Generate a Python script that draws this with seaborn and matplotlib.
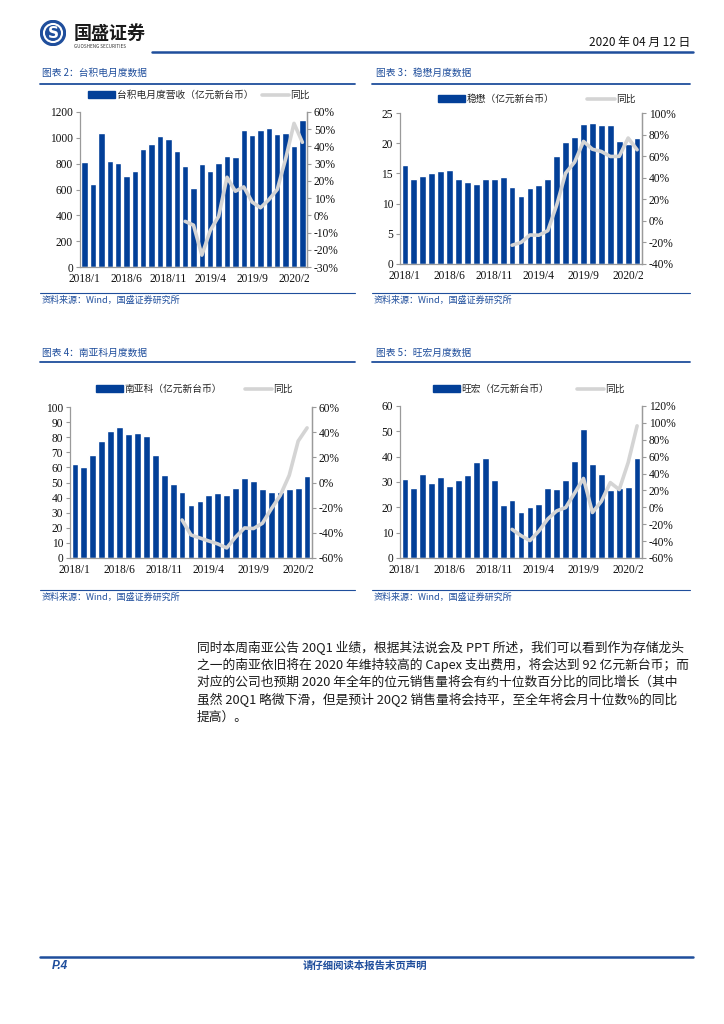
import numpy as np
import pandas as pd
import matplotlib
matplotlib.use("Agg")
import matplotlib.pyplot as plt
from matplotlib.patches import Patch, Circle
from matplotlib.lines import Line2D
from matplotlib.ticker import FuncFormatter
import seaborn as sns

# ---------------- data ----------------
months = ["2018/1", "2018/2", "2018/3", "2018/4", "2018/5", "2018/6", "2018/7", "2018/8", "2018/9",
          "2018/10", "2018/11", "2018/12", "2019/1", "2019/2", "2019/3", "2019/4", "2019/5", "2019/6",
          "2019/7", "2019/8", "2019/9", "2019/10", "2019/11", "2019/12", "2020/1", "2020/2", "2020/3"]
tick_labels = ["2018/1", "2018/6", "2018/11", "2019/4", "2019/9", "2020/2"]

tsmc_rev = [810, 646, 1037, 819, 809, 704, 744, 911, 949, 1016, 989, 898,
            781, 609, 797, 747, 804, 859, 848, 1061, 1022, 1060, 1079, 1033, 1037, 934, 1135]
tsmc_yoy = [-3.5, -5.7, -23.1, -8.8, -0.6, 22.1, 14.0, 16.5, 7.7, 4.4, 9.1, 15.0, 32.8, 53.4, 42.4]

win_rev = [16.4, 14.0, 14.5, 15.0, 15.4, 15.6, 14.0, 13.6, 13.3, 14.0, 14.0, 14.4,
           12.7, 11.2, 12.6, 13.0, 14.0, 17.9, 20.2, 21.0, 23.1, 23.3, 23.0, 23.0, 20.3, 19.8, 20.9]
win_yoy = [-22.6, -20.0, -13.1, -13.3, -9.1, 14.7, 44.3, 54.4, 73.7, 66.4, 64.3, 59.7, 59.8, 76.8, 65.9]

nanya_rev = [62.0, 60.0, 68.0, 77.5, 84.0, 86.5, 82.0, 83.0, 80.5, 68.0, 55.0, 49.0,
             43.5, 35.0, 38.0, 41.5, 43.0, 41.5, 46.5, 53.0, 51.0, 46.0, 43.5, 44.0, 46.0, 46.5, 54.5]
nanya_yoy = [-29.8, -41.7, -44.1, -46.5, -48.8, -52.0, -43.3, -36.1, -36.6, -32.4, -20.9, -10.2, 5.7, 32.9, 43.4]

mxic_rev = [31.0, 27.5, 33.0, 29.5, 32.0, 28.3, 30.8, 32.8, 38.0, 39.4, 30.8, 20.8,
            22.9, 18.3, 20.0, 21.2, 27.6, 27.1, 30.7, 38.3, 51.0, 37.0, 33.0, 26.9, 27.7, 28.0, 39.3]
mxic_yoy = [-26.1, -33.5, -39.4, -28.1, -13.8, -4.2, -0.3, 16.8, 34.2, -6.1, 7.1, 29.3, 21.0, 53.0, 96.5]

# ---------------- style ----------------
sns.set_style("white")
plt.rcParams["font.family"] = ["Noto Sans CJK SC", "DejaVu Sans"]
plt.rcParams["axes.unicode_minus"] = False

BAR = "#023F98"
LINE = "#D4D4D4"
BLUE = "#1F4E9C"
SPINE = "#9A9A9A"
NUMFONT = ["Liberation Serif", "Noto Sans CJK SC"]

W, H = 724, 1024
fig = plt.figure(figsize=(W / 100, H / 100), dpi=100)


def fx(x):
    return x / W


def fy(y):
    return 1 - y / H


def rect(x0, y0, x1, y1):
    return [fx(x0), fy(y1), fx(x1) - fx(x0), (y1 - y0) / H]


def hline(x0, x1, y, lw=1.0, color=BLUE):
    fig.add_artist(Line2D([fx(x0), fx(x1)], [fy(y), fy(y)], color=color, lw=lw,
                          transform=fig.transFigure))


def make_chart(box, rev, yoy, ylim, ystep, rlim, rstep, legend_label,
               title, title_xy, title_line, source_line, legend_xy, colspace):
    ax = fig.add_axes(rect(*box))
    pos = np.arange(len(months))
    df = pd.DataFrame({"pos": pos, "rev": rev})
    sns.barplot(data=df, x="pos", y="rev", ax=ax, color=BAR, saturation=1, width=0.76)
    ax.set_ylim(*ylim)
    ax.set_yticks(np.arange(ylim[0], ylim[1] + ystep / 2, ystep))
    ax.set_xticks([months.index(t) for t in tick_labels])
    ax.set_xticklabels(tick_labels)
    ax.set_xlabel("")
    ax.set_ylabel("")

    ax2 = ax.twinx()
    dfl = pd.DataFrame({"pos": pos[len(months) - len(yoy):], "yoy": np.array(yoy) / 100.0})
    sns.lineplot(data=dfl, x="pos", y="yoy", ax=ax2, color=LINE, lw=2.6)
    ax2.set_ylim(*rlim)
    ax2.set_yticks(np.arange(rlim[0], rlim[1] + rstep / 2, rstep))
    ax2.yaxis.set_major_formatter(FuncFormatter(lambda v, p: f"{v * 100:.0f}%"))
    ax2.set_ylabel("")
    ax.set_xlim(-0.55, len(months) - 0.45)

    for a in (ax, ax2):
        a.spines["top"].set_visible(False)
        for s in ("left", "right", "bottom"):
            a.spines[s].set_color(SPINE)
            a.spines[s].set_linewidth(0.9)
        a.tick_params(axis="y", length=3, width=0.8, color=SPINE, pad=2)
        a.tick_params(axis="x", length=0, pad=4)
        for lab in a.get_yticklabels() + a.get_xticklabels():
            lab.set_fontfamily(NUMFONT)
            lab.set_fontsize(8.3)
            lab.set_color("#111111")
    ax2.spines["left"].set_visible(False)
    ax2.spines["bottom"].set_visible(False)

    handles = [Patch(facecolor=BAR, edgecolor=BAR),
               Line2D([0], [0], color=LINE, lw=2.6)]
    fig.legend(handles, [legend_label, "同比"], loc="center left",
               bbox_to_anchor=(fx(legend_xy[0]), fy(legend_xy[1])), ncol=2, frameon=False,
               fontsize=7, handlelength=2.8, handleheight=0.75, handletextpad=0.15,
               columnspacing=colspace, borderaxespad=0, borderpad=0)

    fig.text(fx(title_xy[0]), fy(title_xy[1]), title, fontsize=7, color=BLUE,
             va="center", ha="left", style="italic")
    hline(title_line[0], title_line[1], title_line[2], lw=1.3)
    hline(source_line[0], source_line[1], source_line[2], lw=0.8)
    fig.text(fx(source_line[0] + 2), fy(source_line[2] + 7), "资料来源：Wind，国盛证券研究所",
             fontsize=6.5, color=BLUE, va="center", ha="left", style="italic")
    return ax, ax2


make_chart((80, 112, 307, 267), tsmc_rev, tsmc_yoy, (0, 1200), 200, (-0.3, 0.6), 0.1,
           "台积电月度营收（亿元新台币）", "图表 2：台积电月度数据", (42, 73), (40, 355, 84),
           (40, 355, 293), (88, 95), 0.9)
make_chart((400, 113, 642, 264), win_rev, win_yoy, (0, 25), 5, (-0.4, 1.0), 0.2,
           "稳懋（亿元新台币）", "图表 3：稳懋月度数据", (376, 73), (372, 690, 84),
           (372, 690, 293), (438, 99), 3.4)
make_chart((70, 407, 312, 558), nanya_rev, nanya_yoy, (0, 100), 10, (-0.6, 0.6), 0.2,
           "南亚科（亿元新台币）", "图表 4：南亚科月度数据", (42, 353), (40, 355, 362),
           (40, 355, 590), (96, 389), 2.3)
make_chart((400, 406, 642, 558), mxic_rev, mxic_yoy, (0, 60), 10, (-0.6, 1.2), 0.2,
           "旺宏（亿元新台币）", "图表 5：旺宏月度数据", (376, 353), (372, 690, 362),
           (372, 690, 590), (433, 389), 2.8)

# ---------------- header ----------------
lax = fig.add_axes([fx(40), fy(46), 26 / W, 26 / H])
lax.set_xlim(0, 1)
lax.set_ylim(0, 1)
lax.axis("off")
lax.add_patch(Circle((0.5, 0.5), 0.48, color=BLUE))
lax.add_patch(Circle((0.5, 0.5), 0.36, color="white"))
lax.add_patch(Circle((0.5, 0.5), 0.28, color=BLUE))
lax.text(0.5, 0.47, "S", color="white", fontsize=11, fontweight="bold", ha="center", va="center",
         family="DejaVu Sans")
fig.text(fx(74), fy(33), "国盛证券", fontsize=13, fontweight="bold", color="#1a1a1a",
         va="center", ha="left")
fig.text(fx(74), fy(46), "GUOSHENG SECURITIES", fontsize=3.3, color="#333333",
         va="center", ha="left")
fig.text(fx(690), fy(42), "2020 年 04 月 12 日", fontsize=8.5, color="#111111",
         va="center", ha="right")
hline(152, 693, 52, lw=1.8)

# ---------------- paragraph ----------------
para = ["同时本周南亚公告 20Q1 业绩，根据其法说会及 PPT 所述，我们可以看到作为存储龙头",
        "之一的南亚依旧将在 2020 年维持较高的 Capex 支出费用，将会达到 92 亿元新台币；而",
        "对应的公司也预期 2020 年全年的位元销售量将会有约十位数百分比的同比增长（其中",
        "虽然 20Q1 略微下滑，但是预计 20Q2 销售量将会持平，至全年将会月十位数%的同比",
        "提高）。"]
for i, line in enumerate(para):
    fig.text(fx(197), fy(648 + 17.2 * i), line, fontsize=9.2, color="#1a1a1a",
             va="center", ha="left")

# ---------------- footer ----------------
hline(40, 693, 957, lw=1.8)
fig.text(fx(52), fy(966), "P.4", fontsize=8.5, color=BLUE, fontweight="bold", style="italic",
         va="center", ha="left", family=["Liberation Sans", "DejaVu Sans"])
fig.text(fx(365), fy(966), "请仔细阅读本报告末页声明", fontsize=7.5, color=BLUE, fontweight="bold",
         va="center", ha="center")

fig.savefig("out.png", dpi=100)
